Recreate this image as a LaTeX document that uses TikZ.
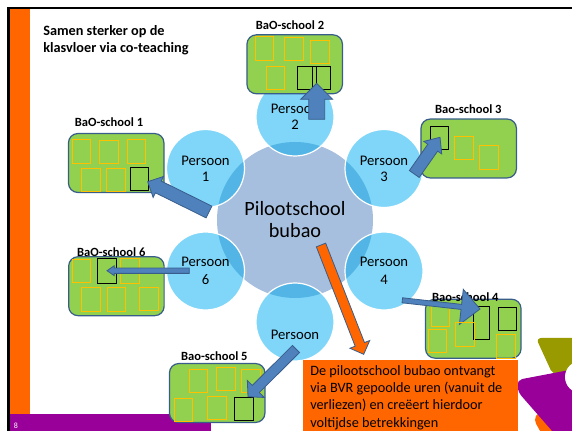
\documentclass[tikz,border=0pt]{standalone}
\usepackage{fontspec}
\setmainfont{Carlito}
\usetikzlibrary{calc}

\definecolor{oranje}{RGB}{255,102,0}
\definecolor{paars}{RGB}{153,0,153}
\definecolor{olijf}{RGB}{153,153,0}
\definecolor{schoolgroen}{RGB}{146,208,80}
\definecolor{rand}{RGB}{56,93,138}
\definecolor{pijlblauw}{RGB}{79,129,189}
\definecolor{lokaalgeel}{RGB}{255,192,0}
\definecolor{centrumblauw}{RGB}{167,191,222}
\definecolor{persoonblauw}{RGB}{127,214,248}
\definecolor{overlapblauw}{RGB}{82,181,229}

\tikzset{
  centrum/.style={circle,fill=centrumblauw,minimum size=117pt,inner sep=0pt,align=center,font=\fontsize{15.2}{16.5}\selectfont},
  persoon/.style={circle,fill=persoonblauw,draw=white,line width=0.9pt,minimum size=58.5pt,inner sep=0pt,align=center,font=\fontsize{11}{12}\selectfont,
    path picture={\fill[overlapblauw] (hart.center) circle (58.5pt);}},
  school/.style={rounded corners=7pt,fill=schoolgroen,draw=rand,line width=0.9pt,minimum width=71.6pt,minimum height=44.2pt,inner sep=0pt},
  lokaal/.style={draw=lokaalgeel,line width=0.6pt,minimum width=14pt,minimum height=17.5pt,inner sep=0pt},
  zwartlokaal/.style={lokaal,draw=black,line width=0.7pt},
  schoolnaam/.style={font=\fontsize{9.4}{10}\selectfont\bfseries,inner sep=0pt},
  blauwepijl/.style={fill=pijlblauw,draw=rand,line width=0.6pt},
  oranjepijl/.style={fill=oranje,draw=rand,line width=0.6pt}
}

% style, from, to, half shaft, half head, head length
\newcommand{\blokpijl}[6]{%
\draw[#1] ($(#2)!#4!90:(#3)$) -- ($(#3)!#6!(#2)!#4!90:(#3)$) -- ($(#3)!#6!(#2)!#5!90:(#3)$) -- (#3) -- ($(#3)!#6!(#2)!#5!-90:(#3)$) -- ($(#3)!#6!(#2)!#4!-90:(#3)$) -- ($(#2)!#4!-90:(#3)$) -- cycle;}

\begin{document}
\begin{tikzpicture}[x=0.75pt,y=0.75pt,yscale=-1,xscale=1]
\useasboundingbox (0,0) rectangle (572,431);

%Slide frame
\fill [black] (7,7) rectangle (572,9.5);
\fill [black] (7,7) rectangle (10,431);
\fill [oranje] (10,9.5) rectangle (30,414);
\fill [paars] (10,414) rectangle (211,431);
\node (paginanr) at (16,426) [text=white,inner sep=0pt,font=\fontsize{6}{7}\selectfont] {8};

%Logo
\fill [olijf,rounded corners=4pt] (536,338) -- (580,338) -- (580,372) -- (553,375) -- cycle;
\fill [oranje,rounded corners=3pt] (538,412) -- (534,420) -- (545,440) -- (570,440) -- cycle;
\fill [paars,rounded corners=4pt] (517,380) -- (580,368) -- (580,440) -- (560,440) -- (518,392) -- cycle;
\fill [white] (581,377) circle (16);

% Title
\node (titel) at (43,40) [anchor=west,inner sep=0pt,align=left,font=\fontsize{10.7}{12.8}\selectfont\bfseries] {Samen sterker op de\\klasvloer via co-teaching};

%Centre and persons
\node [centrum] (hart) at (295,220) {Pilootschool\\bubao};
\node [persoon] (p1) at (205.5,168.5) {Persoon\\1};
\node [persoon] (p2) at (295,117) {Persoon\\2};
\node [persoon] (p3) at (384,168.5) {Persoon\\3};
\node [persoon] (p4) at (384,271) {Persoon\\[1.5pt]4};
\node [persoon] (p5) at (295,322) {~\\[15pt]Persoon};
\node [persoon] (p6) at (205.5,271) {Persoon\\[1pt]6};

%School 1
\node [school] (s1) at (116.2,163) {};
\node [schoolnaam] (s1naam) at (109,122) {BaO-school 1};
\node [lokaal] (s1a) at (81.3,151.5) {};
\node [lokaal] (s1b) at (108.7,152) {};
\node [lokaal] (s1c) at (136.3,151.5) {};
\node [lokaal] (s1d) at (90.7,179.7) {};
\node [lokaal] (s1e) at (115.8,179.7) {};
\node [zwartlokaal] (s1f) at (139.5,179.3) {};

%School 2
\node [school] (s2) at (294.7,64.3) {};
\node [schoolnaam] (s2naam) at (290,25) {BaO-school 2};
\node [lokaal] (s2a) at (264.3,48.5) {};
\node [lokaal] (s2b) at (293.8,48.7) {};
\node [lokaal] (s2c) at (319.7,52) {};
\node [lokaal] (s2d) at (275.3,78) {};
\node [zwartlokaal] (s2e) at (321.5,78.3) {};
\node [zwartlokaal] (s2f) at (307.2,78.2) {};

%School 3
\node [school] (s3) at (468.7,148.5) {};
\node [schoolnaam] (s3naam) at (468.3,109) {Bao-school 3};
\node [zwartlokaal] (s3a) at (439.5,138) {};
\node [lokaal] (s3b) at (464.2,147.7) {};
\node [lokaal] (s3c) at (489.2,157.3) {};

%School 4
\node [school] (s4) at (473.3,328.7) {};
\node [schoolnaam] (s4naam) at (465.3,296.7) {Bao-school 4};
\node [lokaal] (s4a) at (440.3,315) {};
\node [lokaal] (s4b) at (437.3,341) {};
\node [zwartlokaal,minimum width=12.2pt,minimum height=25pt] (s4d) at (481.5,323.3) {};
\node [zwartlokaal] (s4e) at (507.3,319) {};
\node [lokaal] (s4f) at (506,346.3) {};

%School 5
\node [school] (s5) at (217.2,393) {};
\node [schoolnaam] (s5naam) at (214.3,356) {Bao-school 5};
\node [lokaal] (s5a) at (198.5,381) {};
\node [lokaal] (s5b) at (226,379) {};
\node [lokaal] (s5c) at (251,381) {};
\node [lokaal] (s5d) at (183.3,410) {};
\node [lokaal] (s5e) at (216.8,408) {};
\node [zwartlokaal] (s5f) at (243.7,409) {};

%School 6
\node [school] (s6) at (116.4,286.2) {};
\node [schoolnaam] (s6naam) at (111.3,251.7) {BaO-school 6};
\node [lokaal] (s6a) at (81.3,271) {};
\node [zwartlokaal,minimum height=18.5pt] (s6b) at (106.7,271) {};
\node [lokaal,minimum height=19pt] (s6c) at (130,271) {};
\node [lokaal] (s6d) at (90.7,299.3) {};
\node [lokaal] (s6e) at (116.5,299.3) {};
\node [lokaal] (s6f) at (149,299) {};

%Block arrows
\coordinate (p1uit) at (209,212);
\coordinate (s1in) at (147.7,181.7);
\coordinate (p2uit) at (316.7,119.3);
\coordinate (s2in) at (316.7,83.3);
\coordinate (p3uit) at (414.3,174);
\coordinate (s3in) at (440,137.3);
\coordinate (p4uit) at (402.3,300.3);
\coordinate (s4in) at (480,309);
\coordinate (p5uit) at (296,349);
\coordinate (s5in) at (248,396.7);
\coordinate (p6uit) at (189.3,270.7);
\coordinate (s6in) at (107,270.7);
\blokpijl{blauwepijl}{p1uit}{s1in}{4.9pt}{8.8pt}{8.9pt}
\blokpijl{blauwepijl}{p2uit}{s2in}{6pt}{12pt}{12pt}
\blokpijl{blauwepijl}{p3uit}{s3in}{4.5pt}{8.25pt}{9.5pt}
\blokpijl{blauwepijl}{p4uit}{s4in}{1.9pt}{13.3pt}{14.1pt}
\blokpijl{blauwepijl}{p5uit}{s5in}{3.75pt}{9pt}{8.25pt}
\blokpijl{blauwepijl}{p6uit}{s6in}{2pt}{3.75pt}{5.5pt}
\node [lokaal] (s4c) at (464.7,334.3) {};

% Text Node
\node (uitleg) at (303,359.3) [anchor=north west,minimum width=160.7pt,minimum height=54pt,inner sep=0pt,fill=oranje] {};
\node (uitlegtekst) at (310,365) [anchor=north west,inner sep=0pt,align=left,font=\fontsize{10.7}{13}\selectfont] {De pilootschool bubao ontvangt\\via BVR gepoolde uren (vanuit de\\verliezen) en creëert hierdoor\\voltijdse betrekkingen};

\coordinate (hartuit) at (321,245);
\coordinate (uitlegin) at (363.7,354.3);
\blokpijl{oranjepijl}{hartuit}{uitlegin}{3.75pt}{8pt}{8pt}

\end{tikzpicture}
\end{document}
